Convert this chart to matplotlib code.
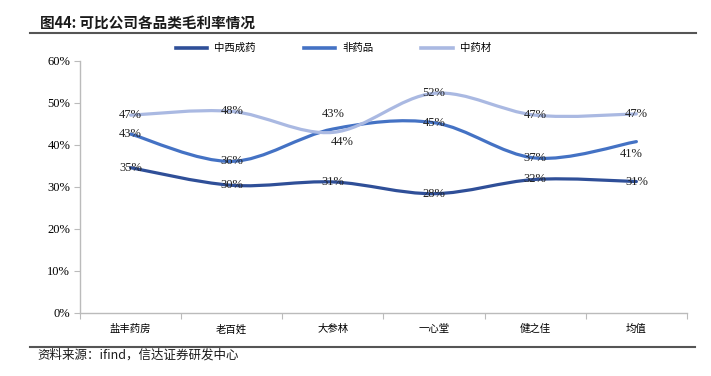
import matplotlib
matplotlib.use('Agg')

import numpy as np
import matplotlib.pyplot as plt
from matplotlib.path import Path
from matplotlib.patches import PathPatch
from matplotlib.lines import Line2D

plt.rcParams['font.family'] = ['Noto Sans CJK SC', 'DejaVu Sans']
plt.rcParams['axes.unicode_minus'] = False

categories = ['盐丰药房', '老百姓', '大参林', '一心堂', '健之佳', '均值']
series_names = ['中西成药', '非药品', '中药材']
western = [34.6, 30.4, 31.2, 28.4, 31.8, 31.3]
non_drug = [42.6, 36.1, 43.8, 45.3, 36.9, 40.8]
herbal = [47.1, 48.0, 43.0, 52.3, 47.1, 47.4]
yticks = [0, 10, 20, 30, 40, 50, 60]

colors = ['#2F4F98', '#4472C4', '#AAB9E2']
# label offsets in points (dx, dy) for labels that are moved off the point
label_offsets = {
    (2, 2): (0, 13),
    (1, 2): (7, -9),
    (1, 5): (-4, -9),
}

serif = ['Liberation Serif', 'DejaVu Serif']


def smooth_path(x, y):
    # cubic bezier through the points (Catmull-Rom style control points)
    pts = np.column_stack([x, y]).astype(float)
    n = len(pts)
    verts = [pts[0]]
    codes = [Path.MOVETO]
    for i in range(n - 1):
        p0 = pts[i - 1] if i > 0 else pts[i]
        p1 = pts[i]
        p2 = pts[i + 1]
        p3 = pts[i + 2] if i + 2 < n else pts[i + 1]
        c1 = p1 + (p2 - p0) / 6.0
        c2 = p2 - (p3 - p1) / 6.0
        verts += [c1, c2, p2]
        codes += [Path.CURVE4] * 3
    return Path(verts, codes)


fig = plt.figure(figsize=(7.11, 3.76), dpi=100)
ax = fig.add_axes([0.1125, 0.1676, 0.8537, 0.6702])

x = np.arange(len(categories))
all_series = [western, non_drug, herbal]
for k, vals in enumerate(all_series):
    patch = PathPatch(smooth_path(x, vals), facecolor='none', edgecolor=colors[k],
                      lw=2.3, capstyle='round', joinstyle='round')
    ax.add_patch(patch)
    for i, v in enumerate(vals):
        dx, dy = label_offsets.get((k, i), (0, 0))
        ax.annotate(f'{round(v):d}%', (i, v), xytext=(dx, dy), textcoords='offset points',
                    ha='center', va='center', fontsize=9, family=serif, color='#222222')

ax.set_xlim(-0.5, len(categories) - 0.5)
ax.set_ylim(0, 60)
ax.set_yticks(yticks)
ax.set_yticklabels([f'{t}%' for t in yticks], family=serif, fontsize=9)
ax.set_xticks(np.arange(-0.5, len(categories), 1.0))
ax.set_xticklabels([])
ax.set_xticks(x, minor=True)
ax.set_xticklabels(categories, minor=True, fontsize=7.5)
ax.tick_params(axis='x', which='minor', length=0, pad=8)
ax.tick_params(axis='x', which='major', length=4, color='#BBBBBB', direction='out')
ax.tick_params(axis='y', length=4, color='#BBBBBB', direction='out', pad=3)
for s in ['top', 'right']:
    ax.spines[s].set_visible(False)
for s in ['left', 'bottom']:
    ax.spines[s].set_color('#BBBBBB')
    ax.spines[s].set_linewidth(1.0)

handles = [Line2D([], [], color=c, lw=2.6) for c in colors]
fig.legend(handles, series_names, loc='center', bbox_to_anchor=(0.469, 0.872), ncol=3,
           frameon=False, fontsize=7.5, handlelength=3.0, handletextpad=0.7,
           columnspacing=4.6)

fig.text(0.056, 0.94, '图44: 可比公司各品类毛利率情况', fontsize=10.5, fontweight='bold',
         ha='left', va='center', color='#1a1a1a')
fig.add_artist(Line2D([0.042, 0.979], [0.911, 0.911], transform=fig.transFigure,
                      color='#555555', lw=1.5))
fig.add_artist(Line2D([0.042, 0.977], [0.077, 0.077], transform=fig.transFigure,
                      color='#555555', lw=1.5))
fig.text(0.053, 0.056, '资料来源：ifind，信达证券研发中心', fontsize=9,
         ha='left', va='center', color='#1a1a1a', style='italic')

fig.savefig('out.png', dpi=100)
